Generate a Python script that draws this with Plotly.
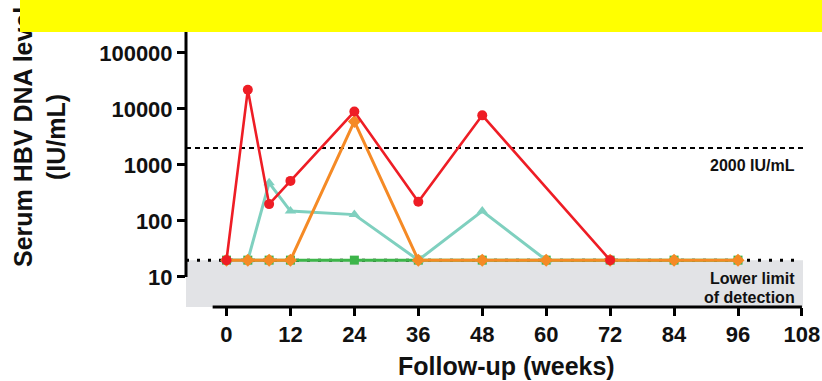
import plotly.graph_objects as go

# Serum HBV DNA over follow-up, one series per patient
weeks_red = [0, 4, 8, 12, 24, 36, 48, 72]
dna_red = [20, 22000, 200, 520, 9000, 220, 7700, 20]

weeks_teal = [0, 4, 8, 12, 24, 36, 48, 60]
dna_teal = [20, 20, 480, 150, 130, 20, 150, 20]

weeks_orange = [0, 4, 8, 12, 24, 36, 48, 60, 72, 84, 96]
dna_orange = [20, 20, 20, 20, 6000, 20, 20, 20, 20, 20, 20]

weeks_green = [0, 4, 8, 12, 24, 36, 48, 60, 72, 84, 96]
dna_green = [20, 20, 20, 20, 20, 20, 20, 20, 20, 20, 20]

x_ticks = [0, 12, 24, 36, 48, 60, 72, 84, 96, 108]
y_ticks = [10, 100, 1000, 10000, 100000, 1000000]
y_ticklabels = ["10", "100", "1000", "10000", "100000", "1000000"]

threshold = 2000      # IU/mL cut-off
lower_limit = 20      # lower limit of detection

# canvas geometry
W, H = 822, 381
ML, MR, MT, MB = 186, 19, 0, 74
PW, PH = W - ML - MR, H - MT - MB

X_RANGE = [-7.6, 108.2]
Y_RANGE = [0.464, 5.946]   # log10 units


def xpaper(px):
    return (px - ML) / PW


def ypaper(py):
    return 1 - (py - MT) / PH


FONT = "Liberation Sans, Arial, sans-serif"

fig = go.Figure()

series = [
    (weeks_green, dna_green, "#3DB54A", "square", 9, 3),
    (weeks_teal, dna_teal, "#7FD0BF", "triangle-up", 10, 3),
    (weeks_orange, dna_orange, "#F58A25", "diamond", 10, 3),
    (weeks_red, dna_red, "#EE1D25", "circle", 10, 2.6),
]
for wx, vy, col, sym, msize, lw in series:
    fig.add_trace(go.Scatter(
        x=wx, y=vy, mode="lines+markers",
        line=dict(color=col, width=lw),
        marker=dict(color=col, symbol=sym, size=msize, line=dict(width=0)),
        showlegend=False, hoverinfo="skip",
    ))

shapes = [
    # shaded region below the detection limit
    dict(type="rect", xref="paper", yref="y", x0=0, x1=1,
         y0=10 ** Y_RANGE[0], y1=lower_limit,
         fillcolor="#E2E3E6", line=dict(width=0), layer="below"),
    # detection limit (dotted)
    dict(type="line", xref="paper", yref="y", x0=0, x1=xpaper(798),
         y0=lower_limit, y1=lower_limit,
         line=dict(color="black", width=3, dash="3px,8px"), layer="below"),
    # 2000 IU/mL threshold (dashed)
    dict(type="line", xref="paper", yref="y", x0=0, x1=1,
         y0=threshold, y1=threshold,
         line=dict(color="black", width=2, dash="5px,4px"), layer="below"),
    # y axis line from 10 upward
    dict(type="line", xref="paper", yref="y", x0=0, x1=0,
         y0=10, y1=10 ** Y_RANGE[1],
         line=dict(color="black", width=3), layer="above"),
    # x axis line
    dict(type="line", xref="x", yref="paper", x0=-2.6, x1=108,
         y0=0, y1=0,
         line=dict(color="black", width=3), layer="above"),
]

annotations = [
    dict(text="<b>2000 IU/mL</b>", xref="paper", yref="paper",
         x=xpaper(797), y=ypaper(165), xanchor="right", yanchor="middle",
         showarrow=False, font=dict(family=FONT, size=16, color="#111")),
    dict(text="<b>Lower limit</b>", xref="paper", yref="paper",
         x=xpaper(797), y=ypaper(278), xanchor="right", yanchor="middle",
         showarrow=False, font=dict(family=FONT, size=16, color="#111")),
    dict(text="<b>of detection</b>", xref="paper", yref="paper",
         x=xpaper(797), y=ypaper(297), xanchor="right", yanchor="middle",
         showarrow=False, font=dict(family=FONT, size=16, color="#111")),
    dict(text="<b>Follow-up (weeks)</b>", xref="paper", yref="paper",
         x=xpaper(506), y=ypaper(366), xanchor="center", yanchor="middle",
         showarrow=False, font=dict(family=FONT, size=25, color="#111")),
    dict(text="<b>Serum HBV DNA level</b>", xref="paper", yref="paper",
         x=xpaper(23), y=ypaper(137), xanchor="center", yanchor="middle",
         textangle=-90, showarrow=False,
         font=dict(family=FONT, size=25, color="#111")),
    dict(text="<b>(IU/mL)</b>", xref="paper", yref="paper",
         x=xpaper(56), y=ypaper(137), xanchor="center", yanchor="middle",
         textangle=-90, showarrow=False,
         font=dict(family=FONT, size=25, color="#111")),
    # yellow banner across the top
    dict(text=" ", xref="paper", yref="paper",
         x=xpaper(20), y=1, xanchor="left", yanchor="top",
         width=W - 20, height=32, bgcolor="#FFFF00", borderpad=0,
         borderwidth=0, showarrow=False),
]

fig.update_layout(
    width=W, height=H,
    margin=dict(l=ML, r=MR, t=MT, b=MB, pad=0),
    paper_bgcolor="white", plot_bgcolor="white",
    shapes=shapes, annotations=annotations,
    xaxis=dict(
        range=X_RANGE, tickvals=x_ticks, ticktext=[str(v) for v in x_ticks],
        showgrid=False, zeroline=False, showline=False,
        ticks="outside", ticklen=8, tickwidth=2.5, tickcolor="black",
        tickfont=dict(family=FONT, size=22, color="#111", weight="bold"),
    ),
    yaxis=dict(
        type="log", range=Y_RANGE, tickvals=y_ticks, ticktext=y_ticklabels,
        showgrid=False, zeroline=False, showline=False,
        ticks="outside", ticklen=8, tickwidth=2.5, tickcolor="black",
        tickfont=dict(family=FONT, size=22, color="#111", weight="bold"),
    ),
)

fig.write_html("out.html")
